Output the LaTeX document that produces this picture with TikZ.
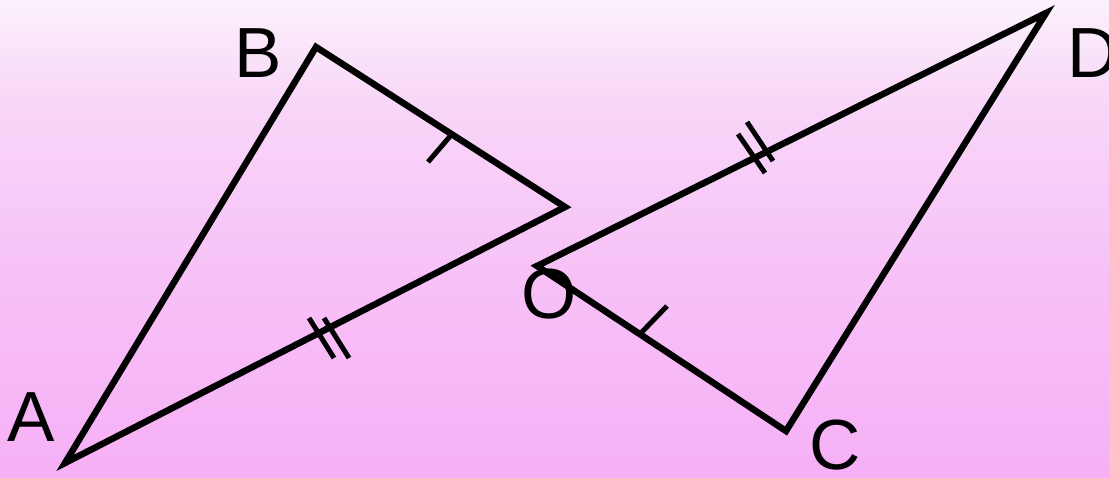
\documentclass[tikz,border=0pt]{standalone}
\usepackage{fontspec}
\setmainfont{Liberation Sans}
\definecolor{bgtop}{RGB}{251,241,251}
\definecolor{bgmid}{RGB}{248,214,248}
\definecolor{bgmid2}{RGB}{247,192,247}
\definecolor{bgbot}{RGB}{246,176,246}
\pgfdeclareverticalshading{bgshade}{100bp}{color(0bp)=(bgbot); color(25bp)=(bgbot); color(45bp)=(bgmid2); color(64bp)=(bgmid); color(75bp)=(bgtop); color(100bp)=(bgtop)}
\tikzset{
  side/.style={line width=6.5pt, line join=miter},
  tickmark/.style={line width=5pt},
  lbl/.style={inner sep=0pt, anchor=base, font=\fontsize{71}{71}\selectfont}
}
\begin{document}
\begin{tikzpicture}[x=1pt,y=-1pt]
\useasboundingbox (0,0) rectangle (1109,477);
\fill[shading=bgshade] (0,0) rectangle (1109,477);
% vertices
\coordinate (A) at (65,463);
\coordinate (B) at (316,47);
\coordinate (X) at (565,207);
\coordinate (O) at (537,266);
\coordinate (D) at (1046,13);
\coordinate (C) at (786,431);
% triangles
\draw[side] (A) -- (B) -- (X) -- cycle;
\draw[side] (O) -- (D) -- (C) -- cycle;
% tick marks
\draw[tickmark] (452,134) -- (428,162);
\draw[tickmark] (640,334) -- (667,306);
\draw[tickmark] (309,318) -- (334,358);
\draw[tickmark] (324,318) -- (349,358);
\draw[tickmark] (738,134) -- (765,173);
\draw[tickmark] (747,122) -- (773,161);
% labels
\node[lbl] (lB) at (258,77) {B};
\node[lbl] (lA) at (31,441) {A};
\node[lbl] (lD) at (1093,77) {D};
\node[lbl] (lO) at (549,318) {O};
\node[lbl] (lC) at (835,469) {C};
\end{tikzpicture}
\end{document}
